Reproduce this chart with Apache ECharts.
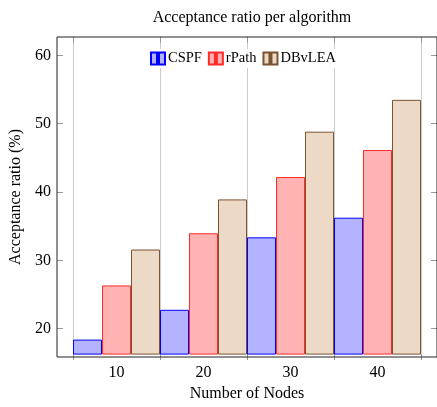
<!DOCTYPE html>
<html>
<head>
<meta charset="utf-8">
<script src="https://cdn.jsdelivr.net/npm/echarts@6/dist/echarts.min.js"></script>
<style>
  html, body { margin: 0; padding: 0; background: #fff; }
  #chart { width: 437px; height: 407px; }
</style>
</head>
<body>
<div id="chart"></div>
<script>
const nodes = ['10', '20', '30', '40'];
const cspf = [18.0, 22.4, 33.1, 36.0];
const rpath = [26.0, 33.7, 42.0, 46.0];
const dbvlea = [31.3, 38.7, 48.7, 53.4];
const yTicks = [20, 30, 40, 50, 60];

const FONT = 'Liberation Serif';
// two little bars, like the pgfplots ybar legend image
const barIcon = 'path://M0,0H6V12H0Z M8,0H14V12H8Z';

const chart = echarts.init(document.getElementById('chart'));

const barSeries = (name, data, fill, stroke) => ({
  name,
  type: 'bar',
  xAxisIndex: 0,
  yAxisIndex: 2,
  data,
  barGap: '0%',
  barCategoryGap: '0%',
  itemStyle: { color: fill, borderColor: stroke, borderWidth: 1 },
  emphasis: { disabled: true }
});

chart.setOption({
  animation: false,
  title: {
    text: 'Acceptance ratio per algorithm',
    left: 247,
    top: 5,
    textAlign: 'center',
    textStyle: { fontFamily: FONT, fontSize: 16, fontWeight: 'normal', color: '#000' }
  },
  legend: {
    left: 147,
    top: 49,
    icon: barIcon,
    itemWidth: 14,
    itemHeight: 12,
    itemGap: 6,
    padding: [2, 3],
    backgroundColor: '#fff',
    textStyle: { fontFamily: FONT, fontSize: 14.5, color: '#000', padding: [0, 0, 0, -2] },
    data: ['CSPF', 'rPath', 'DBvLEA']
  },
  grid: [
    { left: 56, top: 37, width: 382, height: 320, show: true, borderColor: '#222', borderWidth: 1, backgroundColor: 'transparent', z: 3 },
    { left: 73, top: 37, width: 348, height: 320 }
  ],
  xAxis: [
    {
      type: 'category', gridIndex: 1, data: nodes,
      name: 'Number of Nodes', nameLocation: 'middle', nameGap: 30,
      nameTextStyle: { fontFamily: FONT, fontSize: 16, color: '#000' },
      axisLine: { show: false },
      axisTick: { show: true, inside: false, length: 6, lineStyle: { color: '#999' } },
      axisLabel: { fontFamily: FONT, fontSize: 16, color: '#000', margin: 11 },
      splitLine: { show: true, lineStyle: { color: '#cccccc', width: 1 } }
    },
    {
      type: 'category', gridIndex: 1, data: nodes, position: 'top',
      axisLine: { show: false },
      axisTick: { show: true, inside: true, length: 6, lineStyle: { color: '#999' } },
      axisLabel: { show: false },
      splitLine: { show: false }
    },
    { type: 'value', gridIndex: 0, show: false, min: 0, max: 1 }
  ],
  yAxis: [
    {
      type: 'value', gridIndex: 0, min: 15.86, max: 62.68,
      name: 'Acceptance ratio (%)', nameLocation: 'middle', nameGap: 33, nameRotate: 90,
      nameTextStyle: { fontFamily: FONT, fontSize: 16, color: '#000' },
      axisLine: { show: false },
      axisTick: { show: true, inside: true, length: 6, customValues: yTicks, lineStyle: { color: '#999' } },
      axisLabel: { fontFamily: FONT, fontSize: 16, color: '#000', margin: 6, customValues: yTicks },
      splitLine: { show: false }
    },
    {
      type: 'value', gridIndex: 0, position: 'right', min: 15.86, max: 62.68,
      axisLine: { show: false },
      axisTick: { show: true, inside: true, length: 6, customValues: yTicks, lineStyle: { color: '#999' } },
      axisLabel: { show: false, customValues: yTicks },
      splitLine: { show: false }
    },
    {
      type: 'value', gridIndex: 1, min: 15.86, max: 62.68, show: false
    }
  ],
  series: [
    barSeries('CSPF', cspf, '#b3b3ff', '#0000ff'),
    barSeries('rPath', rpath, '#ffb3b3', '#ff2a2a'),
    barSeries('DBvLEA', dbvlea, '#ecd9c6', '#7a5432')
  ]
});
</script>
</body>
</html>
